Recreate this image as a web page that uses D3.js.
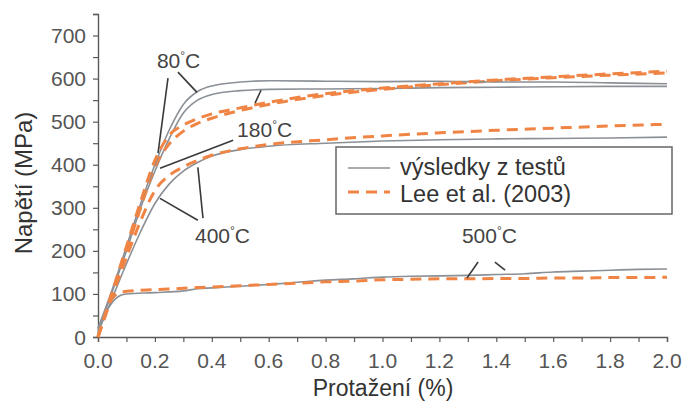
<!DOCTYPE html>
<html>
<head>
<meta charset="utf-8">
<script src="https://cdn.jsdelivr.net/npm/d3@7"></script>
<style>
  html, body { margin: 0; padding: 0; background: #fff; }
  svg { display: block; font-family: "Liberation Sans", Arial, sans-serif; }
</style>
</head>
<body>
<svg id="chart" width="683" height="403"></svg>
<script>
// Strain (%) vs. stress (MPa) — measured curves and the Lee et al. (2003) model
const strain80  = [0, 0.05, 0.1, 0.15, 0.2, 0.25, 0.3, 0.35, 0.4, 0.5, 0.6, 0.8, 1.0, 1.2, 1.4, 1.6, 1.8, 2.0];
const test80    = [20, 110, 210, 310, 400, 480, 540, 570, 583, 592, 595, 594, 593, 594, 592, 592, 590, 588];
const model80   = [0, 105, 210, 315, 410, 468, 492, 507, 518, 532, 545, 565, 578, 588, 597, 604, 611, 617];

const strain180 = [0, 0.05, 0.1, 0.15, 0.2, 0.25, 0.3, 0.35, 0.4, 0.5, 0.6, 0.8, 1.0, 1.2, 1.4, 1.6, 1.8, 2.0];
const test180   = [15, 105, 200, 300, 385, 460, 520, 550, 563, 572, 575, 576, 577, 579, 580, 581, 582, 582];
const model180  = [0, 100, 200, 300, 395, 448, 478, 496, 508, 526, 540, 561, 575, 586, 595, 602, 608, 613];

const strain400 = [0, 0.05, 0.1, 0.15, 0.2, 0.25, 0.3, 0.35, 0.4, 0.5, 0.6, 0.8, 1.0, 1.2, 1.4, 1.6, 1.8, 2.0];
const test400   = [10, 90, 170, 245, 310, 355, 385, 405, 420, 435, 443, 450, 455, 458, 460, 461, 462, 464];
const model400  = [0, 95, 185, 270, 340, 375, 395, 410, 422, 437, 447, 458, 467, 474, 480, 485, 490, 494];

const strain500 = [0, 0.03, 0.06, 0.08, 0.1, 0.2, 0.3, 0.35, 0.4, 0.5, 0.6, 0.7, 0.8, 0.9, 1.0, 1.1, 1.2, 1.3, 1.4, 1.5, 1.6, 1.7, 1.8, 1.9, 2.0];
const test500   = [20, 60, 88, 97, 100, 103, 107, 112, 114, 118, 122, 127, 132, 135, 139, 141, 142, 143, 145, 147, 151, 153, 155, 157, 158];
const model500  = [0, 65, 97, 104, 106, 110, 113, 115, 116, 119, 122, 125, 128, 130, 133, 134, 135, 135, 136, 136, 137, 137, 138, 138, 139];

const xTicks = [0, 0.2, 0.4, 0.6, 0.8, 1.0, 1.2, 1.4, 1.6, 1.8, 2.0];
const yTicks = [0, 100, 200, 300, 400, 500, 600, 700];

// Temperature labels [text, strain, stress] and their leader lines [[x1,y1],[x2,y2]] in data units
const tempLabels = [["80", 0.207, 624], ["180", 0.489, 464], ["400", 0.341, 218], ["500", 1.279, 218]];
const leaders = [
  [[0.246, 601], [0.211, 427]], [[0.281, 615], [0.348, 568]],
  [[0.475, 457], [0.218, 392]], [[0.552, 543], [0.573, 573]],
  [[0.351, 271], [0.218, 322]], [[0.369, 276], [0.351, 394]],
  [[1.336, 174], [1.297, 137]], [[1.395, 174], [1.431, 155]]
];
const legendItems = ["výsledky z testů", "Lee et al. (2003)"];

const svg = d3.select("#chart");
const x = d3.scaleLinear().domain([0, 2]).range([98, 667]);
const y = d3.scaleLinear().domain([0, 750]).range([337, 14]);

const axisColor = "#5a5a5a";
const testColor = "#8b9096";
const modelColor = "#ef8444";

// Axes
const gx = svg.append("g").attr("transform", `translate(0,${y(0)})`)
  .call(d3.axisBottom(x).tickValues(d3.range(0, 2.001, 0.1)).tickSize(5).tickFormat(""));
const gy = svg.append("g").attr("transform", `translate(${x(0)},0)`)
  .call(d3.axisLeft(y).tickValues(d3.range(0, 751, 50)).tickSize(5).tickFormat(""));
[gx, gy].forEach(g => {
  g.select(".domain").attr("stroke", axisColor).attr("stroke-width", 1.4);
  g.selectAll(".tick line").attr("stroke", axisColor).attr("stroke-width", 1.2);
});

svg.append("g").selectAll("text").data(xTicks).join("text")
  .attr("x", d => x(d)).attr("y", 368)
  .attr("text-anchor", "middle").attr("font-size", 21).attr("fill", "#555")
  .text(d => d.toFixed(1));
svg.append("g").selectAll("text").data(yTicks).join("text")
  .attr("x", 86).attr("y", d => y(d) + 7.5)
  .attr("text-anchor", "end").attr("font-size", 21).attr("fill", "#555")
  .text(d => d);

svg.append("text").attr("x", 383).attr("y", 396).attr("text-anchor", "middle")
  .attr("font-size", 23).attr("fill", "#333").text("Protažení (%)");
svg.append("text").attr("transform", "translate(32,183) rotate(-90)").attr("text-anchor", "middle")
  .attr("font-size", 24).attr("fill", "#333").text("Napětí (MPa)");

// Curves
const line = d3.line().x(d => x(d[0])).y(d => y(d[1])).curve(d3.curveMonotoneX);
const series = [
  [strain500, test500, "test"], [strain500, model500, "model"],
  [strain400, test400, "test"], [strain400, model400, "model"],
  [strain180, test180, "test"], [strain180, model180, "model"],
  [strain80, test80, "test"], [strain80, model80, "model"]
];
const curves = svg.append("g");
series.forEach(([xs, ys, kind]) => {
  const pts = xs.map((v, i) => [v, ys[i]]);
  const p = curves.append("path").attr("d", line(pts)).attr("fill", "none");
  if (kind === "test") p.attr("stroke", testColor).attr("stroke-width", 1.6);
  else p.attr("stroke", modelColor).attr("stroke-width", 3).attr("stroke-dasharray", "11,7");
});

// Leader lines and temperature labels
svg.append("g").selectAll("line").data(leaders).join("line")
  .attr("x1", d => x(d[0][0])).attr("y1", d => y(d[0][1]))
  .attr("x2", d => x(d[1][0])).attr("y2", d => y(d[1][1]))
  .attr("stroke", "#3a3a3a").attr("stroke-width", 1.6);
const tl = svg.append("g").selectAll("text").data(tempLabels).join("text")
  .attr("x", d => x(d[1])).attr("y", d => y(d[2]))
  .attr("font-size", 21).attr("fill", "#444");
tl.append("tspan").text(d => d[0]);
tl.append("tspan").attr("font-size", 12).attr("dy", -8).text("°");
tl.append("tspan").attr("dy", 8).text("C");

// Legend
const lg = svg.append("g");
lg.append("rect").attr("x", 336).attr("y", 147).attr("width", 336).attr("height", 67)
  .attr("fill", "#fff").attr("stroke", "#666").attr("stroke-width", 1.5);
lg.append("line").attr("x1", 348).attr("x2", 390).attr("y1", 168).attr("y2", 168)
  .attr("stroke", testColor).attr("stroke-width", 1.6);
lg.append("line").attr("x1", 348).attr("x2", 390).attr("y1", 192).attr("y2", 192)
  .attr("stroke", modelColor).attr("stroke-width", 3).attr("stroke-dasharray", "11,7");
lg.selectAll("text").data(legendItems).join("text")
  .attr("x", 400).attr("y", (d, i) => 175 + i * 27)
  .attr("font-size", 23.5).attr("fill", "#333").text(d => d);
</script>
</body>
</html>
